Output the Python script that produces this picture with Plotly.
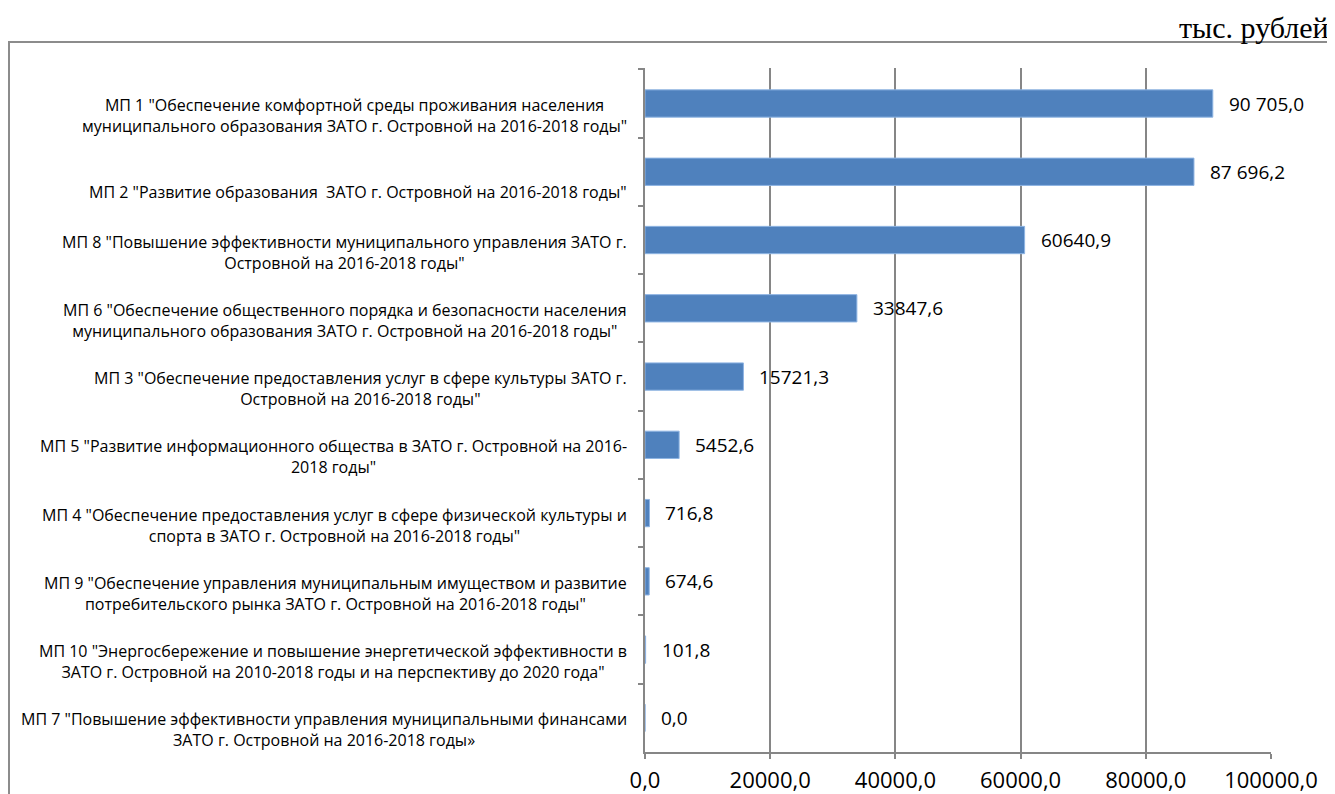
import plotly.graph_objects as go

categories = [
    'МП 1 "Обеспечение комфортной среды проживания населения<br>муниципального образования ЗАТО г. Островной на 2016-2018 годы"',
    'МП 2 "Развитие образования  ЗАТО г. Островной на 2016-2018 годы"',
    'МП 8 "Повышение эффективности муниципального управления ЗАТО г.<br>Островной на 2016-2018 годы"',
    'МП 6 "Обеспечение общественного порядка и безопасности населения<br>муниципального образования ЗАТО г. Островной на 2016-2018 годы"',
    'МП 3 "Обеспечение предоставления услуг в сфере культуры ЗАТО г.<br>Островной на 2016-2018 годы"',
    'МП 5 "Развитие информационного общества в ЗАТО г. Островной на 2016-<br>2018 годы"',
    'МП 4 "Обеспечение предоставления услуг в сфере физической культуры и<br>спорта в ЗАТО г. Островной на 2016-2018 годы"',
    'МП 9 "Обеспечение управления муниципальным имуществом и развитие<br>потребительского рынка ЗАТО г. Островной на 2016-2018 годы"',
    'МП 10 "Энергосбережение и повышение энергетической эффективности в<br>ЗАТО г. Островной на 2010-2018 годы и на перспективу до 2020 года"',
    'МП 7 "Повышение эффективности управления муниципальными финансами<br>ЗАТО г. Островной на 2016-2018 годы»',
]
values = [90705.0, 87696.2, 60640.9, 33847.6, 15721.3, 5452.6, 716.8, 674.6, 101.8, 0.0]
value_labels = ["90 705,0", "87 696,2", "60640,9", "33847,6", "15721,3",
                "5452,6", "716,8", "674,6", "101,8", "0,0"]
tick_values = [0, 20000, 40000, 60000, 80000, 100000]
tick_labels = ["0,0", "20000,0", "40000,0", "60000,0", "80000,0", "100000,0"]
unit_label = "тыс. рублей"

# the page body has an 8px default margin; work in window pixels and offset
OFF = 8
W, H = 1335 - OFF, 794 - OFF
L, R, T, B = 645 - OFF, 64, 68 - OFF, 42
PW, PH = W - L - R, H - T - B

def px_x(px):
    return (px - OFF - L) / PW

def px_y(py):
    return (H - B - (py - OFF)) / PH

FONT = "Open Sans"
GRID = "#868686"

fig = go.Figure()
fig.add_trace(go.Bar(
    x=values, y=categories, orientation="h",
    marker=dict(color="#4F81BD", line=dict(color="#8EB4E3", width=1)),
    hoverinfo="skip",
))

annotations = []
for i, cat in enumerate(categories):
    single = "<br>" not in cat
    annotations.append(dict(
        x=0, xref="paper", y=cat, yref="y", text=cat,
        xanchor="right", yanchor="middle", align="center",
        xshift=-16, yshift=-20 if single else -12, showarrow=False,
        font=dict(family=FONT, size=16, color="#000000"),
    ))
for cat, v, lab in zip(categories, values, value_labels):
    annotations.append(dict(
        x=v, xref="x", y=cat, yref="y", text=lab,
        xanchor="left", yanchor="middle", xshift=14, showarrow=False,
        font=dict(family=FONT, size=19, color="#000000"),
    ))
annotations.append(dict(
    x=px_x(1331), xref="paper", y=px_y(28), yref="paper", text=unit_label,
    xanchor="right", yanchor="middle", showarrow=False,
    font=dict(family="Liberation Serif", size=30, color="#000000"),
))

fig.update_layout(
    width=W, height=H,
    margin=dict(l=L, r=R, t=T, b=B, autoexpand=False),
    paper_bgcolor="white", plot_bgcolor="white",
    showlegend=False,
    bargap=0.6,
    annotations=annotations,
    shapes=[dict(type="rect", xref="paper", yref="paper",
                 x0=px_x(9), x1=px_x(1333), y0=px_y(830), y1=px_y(42),
                 line=dict(color="#8C8C8C", width=2), fillcolor="rgba(0,0,0,0)",
                 layer="below")],
    xaxis=dict(
        range=[0, 100000], tickvals=tick_values, ticktext=tick_labels,
        showgrid=True, gridcolor=GRID, gridwidth=1.5,
        showline=True, linecolor=GRID, linewidth=1.5,
        ticks="outside", ticklen=5, tickcolor=GRID, tickwidth=1.5,
        ticklabelstandoff=3,
        tickfont=dict(family=FONT, size=22, color="#000000"),
        zeroline=False, fixedrange=True,
    ),
    yaxis=dict(
        type="category", autorange="reversed",
        showticklabels=False, showgrid=False,
        showline=True, linecolor=GRID, linewidth=1.5,
        ticks="outside", ticklen=5, tickcolor=GRID, tickwidth=1.5,
        tickson="boundaries", fixedrange=True,
    ),
)

fig.write_html("out.html")
